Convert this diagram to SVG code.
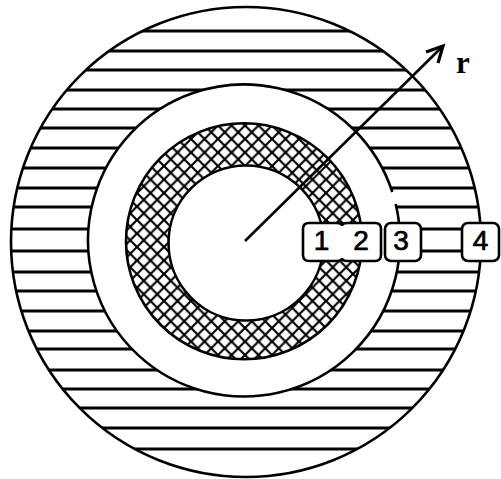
<svg xmlns="http://www.w3.org/2000/svg" width="501" height="479" viewBox="0 0 501 479">
<style>
.hatch{stroke:#000;stroke-width:3;fill:none}
.ring{stroke:#000;stroke-width:2.6}
.box{fill:#fff;stroke:#000;stroke-width:2.6}
.num{font-family:"Liberation Sans",Arial,sans-serif;font-size:28px;fill:#000;stroke:#000;stroke-width:0.7;text-anchor:middle}
.lbl{font-family:"Liberation Serif","Times New Roman",serif;font-size:31px;font-weight:bold;fill:#000}
</style>
<defs>
<clipPath id="outerClip"><circle cx="246" cy="242" r="235"/></clipPath>
<pattern id="xh" x="2" y="4" width="13.5" height="13.5" patternUnits="userSpaceOnUse">
<rect width="13.5" height="13.5" fill="#fff"/>
<path d="M-1,-1 L14.5,14.5 M14.5,-1 L-1,14.5" stroke="#000" stroke-width="2.2"/>
</pattern>
</defs>
<rect width="501" height="479" fill="#fff"/>
<g id="outer-layer">
<g clip-path="url(#outerClip)" class="hatch">
<line x1="0" x2="501" y1="31" y2="31"/>
<line x1="0" x2="501" y1="51" y2="51"/>
<line x1="0" x2="501" y1="70" y2="70"/>
<line x1="0" x2="501" y1="90" y2="90"/>
<line x1="0" x2="501" y1="109" y2="109"/>
<line x1="0" x2="501" y1="128" y2="128"/>
<line x1="0" x2="501" y1="148" y2="148"/>
<line x1="0" x2="501" y1="168" y2="168"/>
<line x1="0" x2="501" y1="188" y2="188"/>
<line x1="0" x2="501" y1="207" y2="207"/>
<line x1="0" x2="501" y1="229" y2="229"/>
<line x1="0" x2="501" y1="251" y2="251"/>
<line x1="0" x2="501" y1="272" y2="272"/>
<line x1="0" x2="501" y1="291" y2="291"/>
<line x1="0" x2="501" y1="311" y2="311"/>
<line x1="0" x2="501" y1="331" y2="331"/>
<line x1="0" x2="501" y1="349" y2="349"/>
<line x1="0" x2="501" y1="370" y2="370"/>
<line x1="0" x2="501" y1="389" y2="389"/>
<line x1="0" x2="501" y1="408" y2="408"/>
<line x1="0" x2="501" y1="428" y2="428"/>
<line x1="0" x2="501" y1="449" y2="449"/>
</g>
<circle cx="246" cy="242" r="235" class="ring" fill="none"/>
</g>
<g id="middle-layer">
<circle cx="244" cy="240.5" r="156" fill="#fff"/>
<path d="M395.7,204 A156,156 0 1 1 392.3,192" class="ring" fill="none"/>
</g>
<g id="crosshatch-ring">
<circle cx="244" cy="241.3" r="118" fill="url(#xh)" class="ring"/>
<circle cx="246" cy="243" r="77.5" fill="#fff" class="ring"/>
</g>
<g id="connectors">
<line x1="245" y1="241" x2="443" y2="46" stroke="#000" stroke-width="2.6"/>
<polyline points="426,52 443,46 438,63" fill="none" stroke="#000" stroke-width="3.2"/>
</g>
<g id="label-r"><text x="456" y="73" class="lbl">r</text></g>
<g id="node-1-2">
<path class="box" d="M309,223 H337 Q342,223 342,226 Q342,223 347,223 H375 Q381,223 381,229 V255 Q381,261 375,261 H347 Q342,261 342,258 Q342,261 337,261 H309 Q303,261 303,255 V229 Q303,223 309,223 Z"/>
<text x="321.5" y="250" class="num">1</text>
<text x="361" y="250" class="num">2</text>
</g>
<g id="node-3">
<rect x="385" y="223" width="36" height="38" rx="6" class="box"/>
<text x="401" y="250" class="num">3</text>
</g>
<g id="node-4">
<rect x="462" y="223" width="37" height="38" rx="6" class="box"/>
<text x="480.5" y="250" class="num">4</text>
</g>
</svg>
